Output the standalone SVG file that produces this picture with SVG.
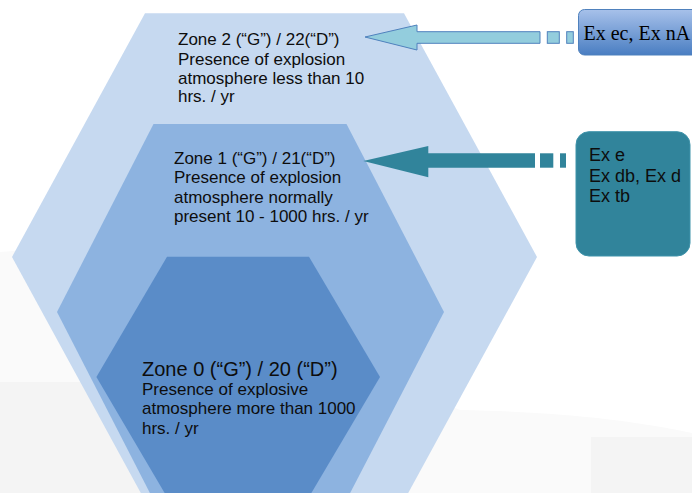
<svg xmlns="http://www.w3.org/2000/svg" width="692" height="493" viewBox="0 0 692 493">
<style>
.t{font-family:"Liberation Sans",Arial,sans-serif;font-size:17px;fill:#0d0d0d}
.big{font-size:20px}
.bx{font-size:18px}
.serif{font-family:"Liberation Serif","Times New Roman",serif;font-size:20px;fill:#000}
</style>
<defs>
<linearGradient id="g1" x1="0" y1="0" x2="0" y2="1">
<stop offset="0" stop-color="#a7c1ea"/>
<stop offset="1" stop-color="#4a7ec2"/>
</linearGradient>
</defs>
<rect width="692" height="493" fill="#ffffff"/>
<g id="background">
<path d="M0,252 Q20,250 40,250 L460,410 C560,412 630,420 692,433 L692,493 L0,493 Z" fill="#fafafa"/>
<rect x="0" y="382" width="200" height="111" fill="#f4f4f4"/>
<rect x="591" y="437" width="101" height="56" fill="#f4f4f4"/>
</g>
<g id="zone2">
<polygon points="145,13.3 404,13.3 537,257 404,500.7 145,500.7 12,257" fill="#c6d9f0"/>
<text class="t" x="178" y="45">Zone 2 (“G”) / 22(“D”)</text>
<text class="t" x="178" y="64.5">Presence of explosion</text>
<text class="t" x="178" y="83.5">atmosphere less than 10</text>
<text class="t" x="178" y="102">hrs. / yr</text>
</g>
<g id="zone1">
<polygon points="153.5,124 346.5,124 444,312 346.5,500 153.5,500 57,312" fill="#8db3e0"/>
<text class="t" x="174" y="164">Zone 1 (“G”) / 21(“D”)</text>
<text class="t" x="174" y="183">Presence of explosion</text>
<text class="t" x="174" y="203">atmosphere normally</text>
<text class="t" x="174" y="222">present 10 - 1000 hrs. / yr</text>
</g>
<g id="zone0">
<polygon points="167,256.7 309,256.7 380,377 309,497 167,497 96.4,377" fill="#5a8cc8"/>
<text class="t big" x="142" y="376">Zone 0 (“G”) / 20 (“D”)</text>
<text class="t" x="142" y="394.5">Presence of explosive</text>
<text class="t" x="142" y="414">atmosphere more than 1000</text>
<text class="t" x="142" y="433.5">hrs. / yr</text>
</g>
<g id="box-ec">
<rect x="578.5" y="9.5" width="130" height="45.5" rx="6" fill="url(#g1)" stroke="#4f81bd" stroke-width="1"/>
<text class="serif" x="583.5" y="40">Ex ec, Ex nA</text>
</g>
<g id="box-e">
<rect x="576" y="131.7" width="114" height="124.3" rx="13" fill="#31849b" stroke="#3f93aa" stroke-width="1"/>
<text class="t bx" x="589" y="161">Ex e</text>
<text class="t bx" x="589" y="181.5">Ex db, Ex d</text>
<text class="t bx" x="589" y="202">Ex tb</text>
</g>
<g id="connectors">
<polygon points="365,37 417,25 417,31.7 540,31.7 540,43.3 417,43.3 417,50" fill="#93cddd" stroke="#4f81bd" stroke-width="1"/>
<rect x="547.3" y="31.7" width="12" height="11.6" fill="#93cddd" stroke="#4f81bd" stroke-width="1"/>
<rect x="566.7" y="31.7" width="6.6" height="11.6" fill="#93cddd" stroke="#4f81bd" stroke-width="1"/>
<polygon points="363.3,161 428.3,146 428.3,153.3 535,153.3 535,167.7 428.3,167.7 428.3,177.3" fill="#31849b"/>
<rect x="540" y="153.3" width="13.3" height="14.4" fill="#31849b"/>
<rect x="560" y="153.3" width="6" height="14.4" fill="#31849b"/>
</g>
</svg>
